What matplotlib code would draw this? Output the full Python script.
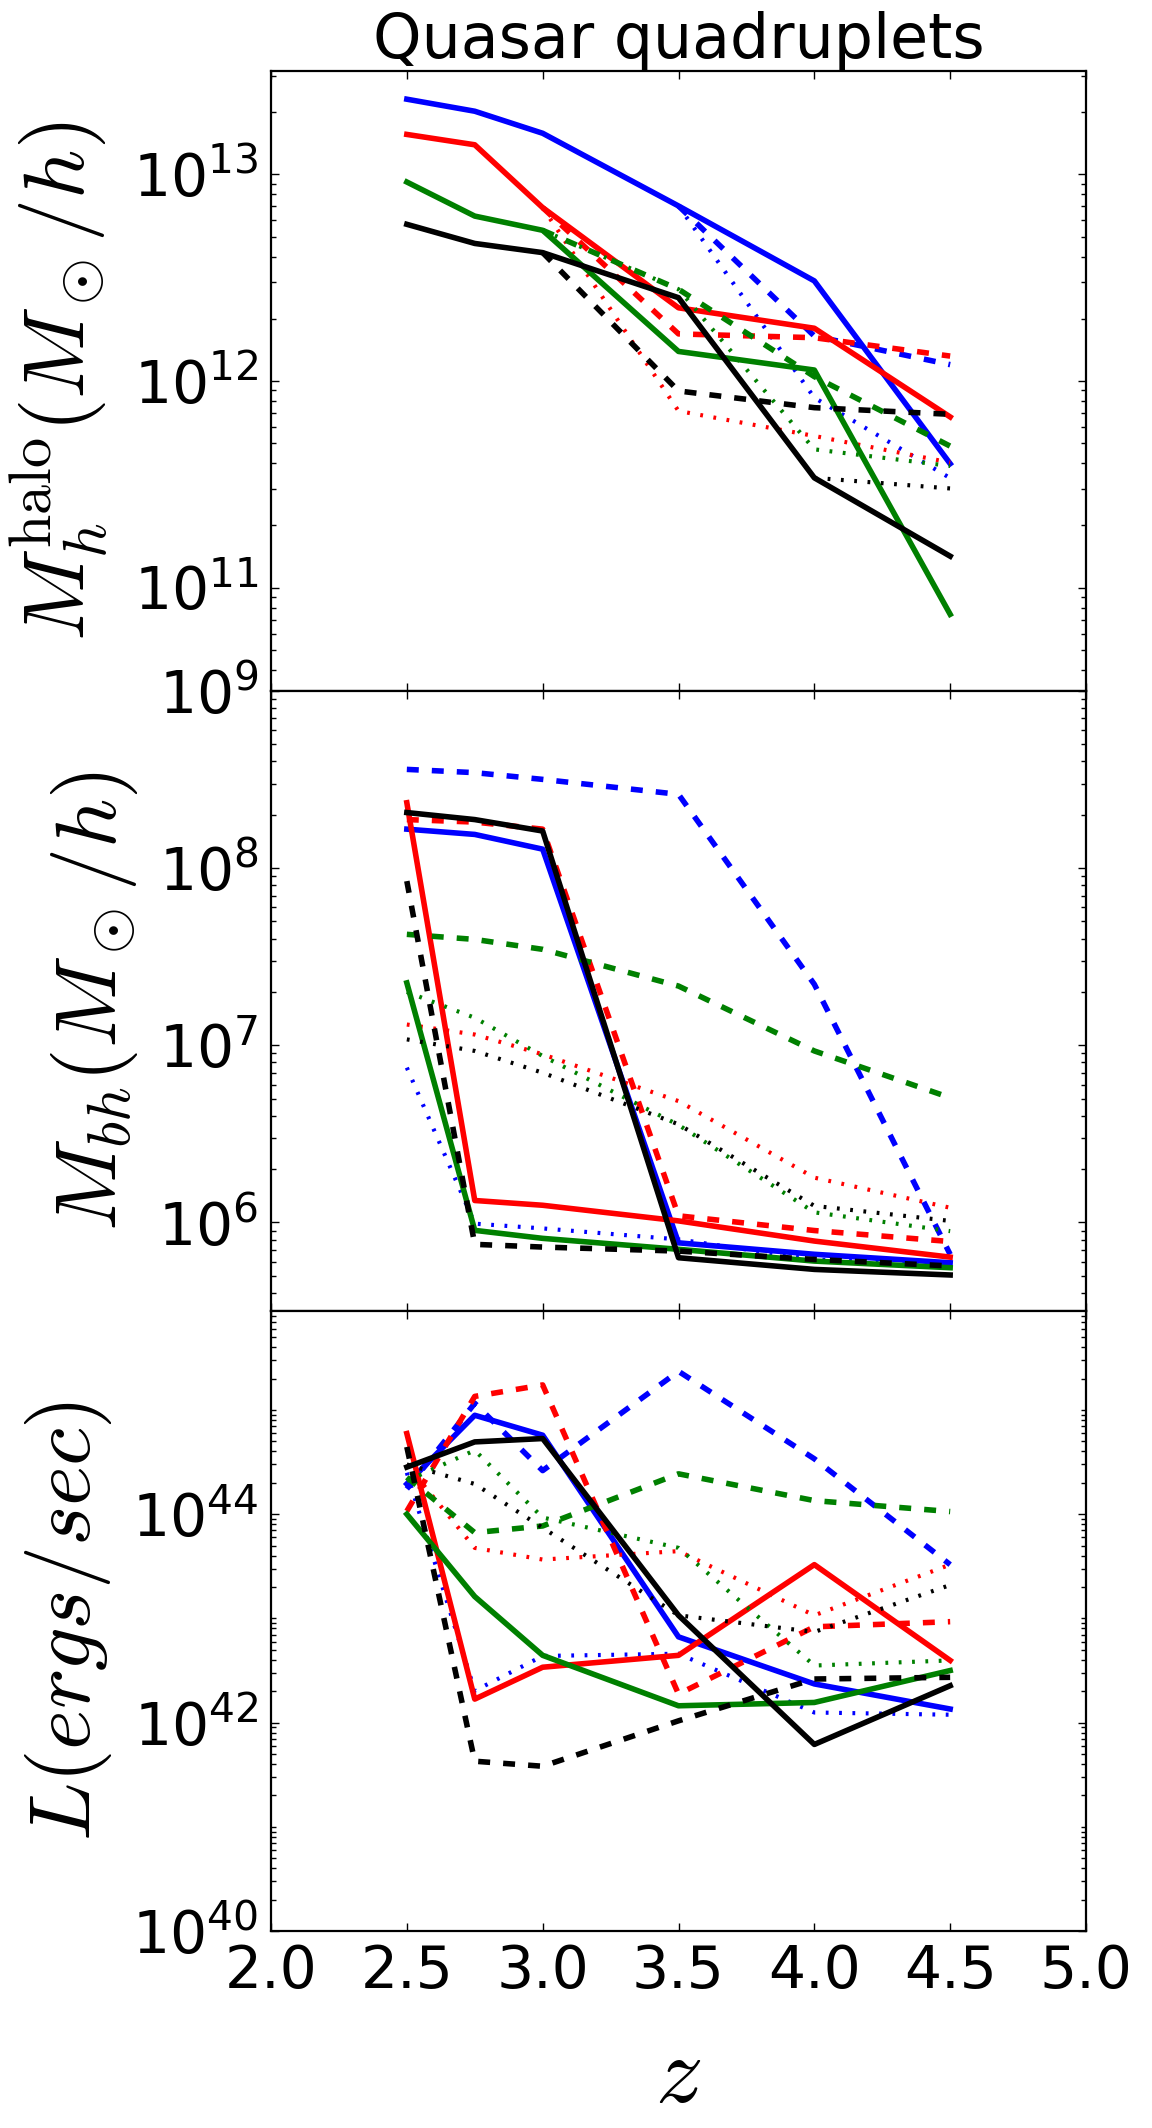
import numpy as np
import matplotlib
matplotlib.use("Agg")
import matplotlib.pyplot as plt
from matplotlib.ticker import LogLocator, NullFormatter

nan = np.nan

# ---------------- data ----------------
z = [2.5, 2.75, 3.0, 3.5, 4.0, 4.5]

# Halo mass (M_sun/h)
halo_blue_solid   = [2.31e13, 2.02e13, 1.58e13, 7.03e12, 3.05e12, 3.98e11]
halo_blue_dashed  = [nan, nan, nan, 7.03e12, 1.65e12, 1.20e12]
halo_blue_dotted  = [nan, nan, nan, 7.03e12, 8.30e11, 3.39e11]
halo_red_solid    = [1.56e13, 1.39e13, 6.90e12, 2.26e12, 1.80e12, 6.70e11]
halo_red_dashed   = [nan, nan, 6.90e12, 1.69e12, 1.62e12, 1.32e12]
halo_red_dotted   = [nan, nan, 6.90e12, 7.16e11, 5.42e11, 4.03e11]
halo_green_solid  = [9.18e12, 6.28e12, 5.36e12, 1.39e12, 1.13e12, 7.43e10]
halo_green_dashed = [nan, nan, 5.36e12, 2.78e12, 1.05e12, 4.84e11]
halo_green_dotted = [nan, nan, 5.36e12, 2.78e12, 4.67e11, 3.88e11]
halo_black_solid  = [5.73e12, 4.63e12, 4.18e12, 2.53e12, 3.40e11, 1.42e11]
halo_black_dashed = [nan, nan, 4.18e12, 8.95e11, 7.43e11, 6.90e11]
halo_black_dotted = [nan, nan, nan, nan, 3.40e11, 3.02e11]

# Black hole mass (M_sun/h)
bh_blue_solid   = [1.66e8, 1.55e8, 1.28e8, 7.67e5, 6.61e5, 5.92e5]
bh_blue_dashed  = [3.61e8, 3.46e8, 3.17e8, 2.61e8, 2.21e7, 6.60e5]
bh_blue_dotted  = [7.48e6, 9.84e5, 9.25e5, 8.02e5, 6.17e5, 5.79e5]
bh_red_solid    = [2.34e8, 1.33e6, 1.25e6, 1.02e6, 7.85e5, 6.37e5]
bh_red_dashed   = [1.88e8, 1.82e8, 1.66e8, 1.09e6, 9.00e5, 7.80e5]
bh_red_dotted   = [1.31e7, 1.15e7, 8.89e6, 4.84e6, 1.79e6, 1.21e6]
bh_green_solid  = [2.25e7, 9.02e5, 8.13e5, 7.05e5, 6.05e5, 5.55e5]
bh_green_dashed = [4.23e7, 3.96e7, 3.48e7, 2.16e7, 9.29e6, 5.06e6]
bh_green_dotted = [2.00e7, 1.43e7, 8.70e6, 3.55e6, 1.14e6, 8.93e5]
bh_black_solid  = [2.06e8, 1.88e8, 1.62e8, 6.32e5, 5.43e5, 5.05e5]
bh_black_dashed = [8.45e7, 7.52e5, 7.26e5, 6.89e5, 6.18e5, 5.68e5]
bh_black_dotted = [1.08e7, 9.29e6, 7.00e6, 3.58e6, 1.24e6, 1.02e6]

# Luminosity (ergs/sec)
lum_blue_solid   = [1.95e44, 8.90e44, 5.73e44, 6.65e42, 2.35e42, 1.35e42]
lum_blue_dashed  = [1.75e44, 1.16e45, 2.62e44, 2.35e45, 3.40e44, 3.28e43]
lum_blue_dotted  = [2.50e44, 2.02e42, 4.36e42, 4.58e42, 1.25e42, 1.19e42]
lum_red_solid    = [5.94e44, 1.68e42, 3.40e42, 4.42e42, 3.28e43, 3.95e42]
lum_red_dashed   = [1.07e44, 1.35e45, 1.74e45, 1.88e42, 8.30e42, 9.30e42]
lum_red_dotted   = [3.00e44, 4.75e43, 3.67e43, 4.42e43, 1.07e43, 3.28e43]
lum_green_solid  = [1.00e44, 1.62e43, 4.42e42, 1.45e42, 1.56e42, 3.16e42]
lum_green_dashed = [2.26e44, 6.65e43, 7.71e43, 2.44e44, 1.35e44, 1.06e44]
lum_green_dotted = [2.09e44, 4.10e44, 9.29e43, 4.75e43, 3.53e42, 3.95e42]
lum_black_solid  = [2.83e44, 4.94e44, 5.32e44, 1.07e43, 6.17e41, 2.26e42]
lum_black_dashed = [4.42e44, 4.26e41, 3.81e41, 1.04e42, 2.62e42, 2.72e42]
lum_black_dotted = [3.00e44, 1.95e44, 7.41e43, 1.07e43, 7.41e42, 2.09e43]

xticks = [2.0, 2.5, 3.0, 3.5, 4.0, 4.5, 5.0]
title = "Quasar quadruplets"
ylabels = [r"$M_h^{\rm halo}(M_\odot/h)$", r"$M_{bh}(M_\odot/h)$", r"$L(ergs/sec)$"]
xlabel = r"$z$"

# ---------------- style ----------------
plt.rcParams["mathtext.fontset"] = "cm"
plt.rcParams["font.family"] = ["DejaVu Sans"]
plt.rcParams["lines.scale_dashes"] = False

col = {"blue": (0, 0, 1), "red": (1, 0, 0), "green": (0, 0.5, 0), "black": (0, 0, 0)}
styles = {
    "solid": dict(linestyle="-", lw=4.0),
    "dashed": dict(linestyle=(0, (8.6, 9.4)), lw=4.0),
    "dotted": dict(linestyle=(0, (2.0, 7.6)), lw=3.0),
}

panels = [
    {"blue": (halo_blue_solid, halo_blue_dashed, halo_blue_dotted),
     "red": (halo_red_solid, halo_red_dashed, halo_red_dotted),
     "green": (halo_green_solid, halo_green_dashed, halo_green_dotted),
     "black": (halo_black_solid, halo_black_dashed, halo_black_dotted)},
    {"blue": (bh_blue_solid, bh_blue_dashed, bh_blue_dotted),
     "red": (bh_red_solid, bh_red_dashed, bh_red_dotted),
     "green": (bh_green_solid, bh_green_dashed, bh_green_dotted),
     "black": (bh_black_solid, bh_black_dashed, bh_black_dotted)},
    {"blue": (lum_blue_solid, lum_blue_dashed, lum_blue_dotted),
     "red": (lum_red_solid, lum_red_dashed, lum_red_dotted),
     "green": (lum_green_solid, lum_green_dashed, lum_green_dotted),
     "black": (lum_black_solid, lum_black_dashed, lum_black_dotted)},
]

ylims = [(10**10.5, 10**13.5), (10**5.5, 1e9), (1e40, 10**45.95)]
label_x = [-0.1975, -0.161, -0.193]

fig, axes = plt.subplots(3, 1, figsize=(11.52, 21.28), dpi=100, sharex=True)
fig.subplots_adjust(left=271/1152, right=1086/1152,
                    top=1 - 71/2128, bottom=1 - 1931/2128, hspace=0)

for i, ax in enumerate(axes):
    data = panels[i]
    for c in ["blue", "red", "green", "black"]:
        for s, ys in zip(["solid", "dashed", "dotted"], data[c]):
            ax.plot(z, ys, color=col[c], **styles[s])
    ax.set_yscale("log")
    ax.set_ylim(*ylims[i])
    ax.set_xlim(2.0, 5.0)
    ax.set_xticks(xticks)
    ax.yaxis.set_minor_locator(LogLocator(base=10, subs=np.arange(1, 10), numticks=100))
    ax.yaxis.set_minor_formatter(NullFormatter())
    ax.tick_params(which="both", direction="in", top=True, right=True, width=1.0)
    ax.tick_params(which="major", length=6, labelsize=42, pad=9)
    ax.tick_params(which="minor", length=3.5)
    ax.tick_params(axis="x", which="major", pad=8.5)
    for sp in ax.spines.values():
        sp.set_linewidth(1.6)
    ax.set_ylabel(ylabels[i], fontsize=62)
    ax.yaxis.set_label_coords(label_x[i], 0.5)

axes[2].set_yticks([1e40, 1e42, 1e44])
axes[0].set_title(title, fontsize=44.5, pad=6.5)
axes[2].set_xlabel(xlabel, fontsize=68)
axes[2].xaxis.set_label_coords(0.5, -0.16)

fig.savefig("out.png", dpi=100, facecolor="white")
